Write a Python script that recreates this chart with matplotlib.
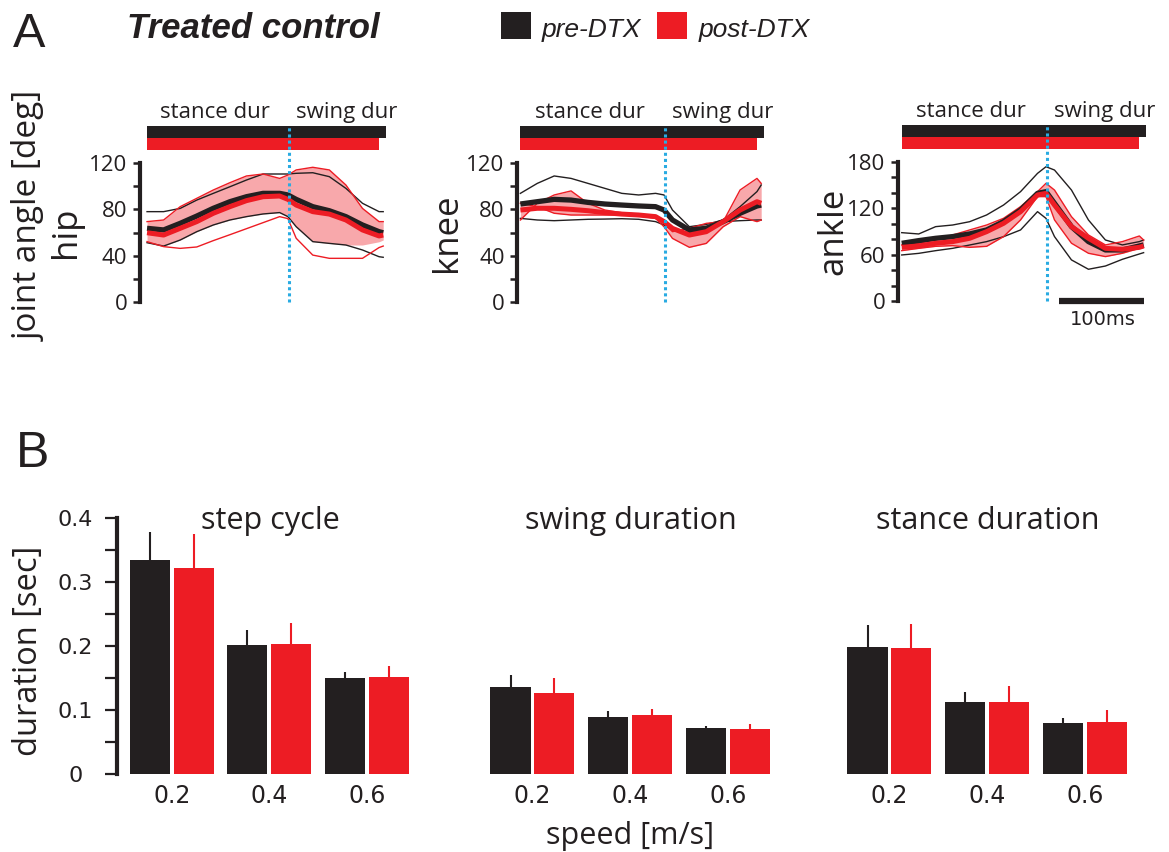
import matplotlib
matplotlib.use('Agg')
import matplotlib.pyplot as plt
import matplotlib.transforms as mtransforms
from matplotlib.patches import Rectangle
import numpy as np

plt.rcParams['font.family'] = ['Open Sans', 'DejaVu Sans']

BLK = '#231f20'
RED = '#ed1c24'
BLUE = '#29abe2'

#----------------  A: joint angle profiles (time in ms, angle in deg)  --------------------

t_ms = [0, 20, 40, 60, 80, 100, 120, 140, 160, 170, 180, 200, 220, 240, 260, 280, 285]

# stance / swing durations used for the bars above each trace
stance_pre, swing_pre = 171, 117
stance_post, swing_post = 171, 109

hip_pre_mean = [63.6, 62.2, 67.9, 74.2, 80.9, 86.6, 90.9, 93.8, 93.8, 92.4, 88.6, 82.3, 78.8, 73.7, 66.5, 60.7, 59.8]
hip_pre_hi = [78.0, 78.0, 80.8, 88.0, 93.8, 99.5, 105.3, 110.5, 110.5, 110.5, 111.1, 111.6, 108.2, 98.1, 85.2, 78.0, 78.0]
hip_pre_lo = [51.2, 48.3, 53.5, 60.7, 66.5, 70.8, 73.7, 76.0, 77.2, 73.7, 65.0, 52.1, 50.6, 49.2, 44.9, 39.1, 38.6]
hip_post_mean = [59.8, 57.8, 63.6, 69.4, 76.6, 82.3, 87.5, 90.9, 91.5, 88.6, 83.7, 78.0, 75.9, 70.8, 62.2, 57.0, 57.8]
hip_post_hi = [69.4, 70.8, 82.3, 89.5, 96.7, 103.0, 108.8, 110.5, 106.7, 109.6, 114.0, 116.3, 114.0, 101.0, 80.8, 69.4, 69.4]
hip_post_lo = [52.1, 47.8, 46.3, 47.5, 53.0, 58.1, 63.3, 68.5, 73.7, 72.0, 55.0, 40.5, 37.7, 37.7, 37.7, 47.0, 48.3]
hip_band_lo = [51.2, 48.3, 53.5, 60.7, 66.5, 70.8, 73.7, 76.0, 77.2, 73.7, 65.0, 52.1, 50.6, 49.2, 49.2, 52.0, 53.5]
hip_band_hi = hip_post_hi

knee_pre_mean = [84.6, 86.6, 88.6, 88.0, 86.0, 84.6, 83.7, 82.9, 82.3, 79.4, 70.8, 62.2, 63.6, 69.4, 76.6, 82.9, 83.7]
knee_pre_hi = [93.8, 102.4, 108.8, 106.7, 102.4, 98.1, 93.8, 92.4, 93.8, 92.4, 79.4, 65.0, 67.0, 70.8, 82.3, 95.3, 101.0]
knee_pre_lo = [72.2, 70.8, 70.2, 70.8, 71.4, 71.6, 71.9, 71.4, 69.4, 66.5, 62.2, 59.8, 62.0, 69.4, 70.2, 70.8, 70.8]
knee_post_mean = [79.4, 80.9, 80.9, 80.0, 78.8, 77.1, 75.9, 75.1, 73.7, 69.4, 63.6, 57.8, 60.7, 69.4, 79.4, 86.6, 85.2]
knee_post_hi = [70.8, 85.2, 92.4, 95.9, 85.2, 79.4, 77.1, 75.9, 74.2, 67.9, 60.7, 63.6, 67.9, 69.4, 96.7, 106.7, 102.4]
knee_post_lo = [85.2, 82.3, 76.6, 75.1, 75.1, 75.1, 75.1, 74.2, 72.2, 65.0, 54.9, 47.2, 50.6, 65.0, 73.7, 69.4, 70.8]
knee_band_lo, knee_band_hi = knee_post_lo, knee_post_hi

ankle_pre_mean = [74.7, 78.2, 81.2, 83.4, 86.8, 92.0, 102.8, 117.9, 139.4, 141.6, 126.5, 96.3, 76.9, 66.1, 66.1, 71.3, 72.6]
ankle_pre_hi = [88.5, 86.8, 96.3, 98.4, 102.7, 111.4, 124.3, 141.6, 165.3, 173.9, 169.6, 143.7, 104.9, 79.0, 72.6, 76.9, 79.0]
ankle_pre_lo = [59.6, 61.7, 65.2, 68.2, 72.5, 76.9, 83.3, 92.0, 115.7, 107.0, 83.4, 53.2, 41.1, 45.3, 54.0, 60.9, 62.6]
ankle_post_mean = [69.5, 71.3, 74.7, 76.9, 81.2, 89.8, 100.6, 115.7, 137.3, 139.4, 124.3, 96.3, 81.2, 68.2, 66.9, 69.5, 71.3]
ankle_post_hi = [72.6, 74.7, 79.0, 85.5, 92.0, 98.4, 107.1, 122.2, 141.6, 152.4, 143.7, 109.2, 85.5, 72.6, 76.9, 84.2, 79.0]
ankle_post_lo = [65.2, 68.2, 70.8, 71.7, 69.5, 70.8, 83.4, 105.0, 135.2, 135.2, 105.0, 74.8, 61.8, 57.5, 61.8, 68.2, 69.5]
ankle_band_lo, ankle_band_hi = ankle_post_lo, ankle_post_hi

#----------------  B: step timing vs treadmill speed (sec)  --------------------

speeds = ['0.2', '0.4', '0.6']

cycle_pre = [0.334, 0.201, 0.150]
cycle_pre_sd = [0.044, 0.024, 0.009]
cycle_post = [0.322, 0.203, 0.152]
cycle_post_sd = [0.053, 0.033, 0.017]

swing_dur_pre = [0.136, 0.089, 0.072]
swing_dur_pre_sd = [0.019, 0.009, 0.003]
swing_dur_post = [0.127, 0.092, 0.070]
swing_dur_post_sd = [0.023, 0.009, 0.008]

stance_dur_pre = [0.199, 0.112, 0.080]
stance_dur_pre_sd = [0.034, 0.016, 0.007]
stance_dur_post = [0.197, 0.112, 0.082]
stance_dur_post_sd = [0.037, 0.025, 0.018]


#----------------  figure  --------------------

W, H = 1169, 852
fig = plt.figure(figsize=(W / 100, H / 100), dpi=100)
TXT = '#231f20'


def px_axes(x0, y0, x1, y1):
    # axes box given in pixels measured from the top-left corner
    return fig.add_axes([x0 / W, 1 - y1 / H, (x1 - x0) / W, (y1 - y0) / H])


def joint_panel(box, xlim, name, name_x, ymax, ylabels, pre, post, band, scalebar=False):
    ax = px_axes(*box)
    ax.fill_between(t_ms, band[0], band[1], color=RED, alpha=0.38, lw=0, zorder=1)
    ax.plot(t_ms, pre[1], color=BLK, lw=1.0, zorder=2)
    ax.plot(t_ms, pre[2], color=BLK, lw=1.0, zorder=2)
    ax.plot(t_ms, post[1], color=RED, lw=1.0, zorder=3)
    ax.plot(t_ms, post[2], color=RED, lw=1.0, zorder=3)
    ax.plot(t_ms, pre[0], color=BLK, lw=3.8, zorder=4, solid_capstyle='butt')
    ax.plot(t_ms, post[0], color=RED, lw=3.6, zorder=5, solid_capstyle='butt')

    ax.set_xlim(*xlim)
    ax.set_ylim(0, ymax)

    # stance/swing bars above the trace
    trans = mtransforms.blended_transform_factory(ax.transData, ax.transAxes)
    ax.barh([1.223], [stance_pre + swing_pre], height=0.086, left=0, color=BLK,
            transform=trans, clip_on=False, lw=0)
    ax.barh([1.137], [stance_post + swing_post], height=0.086, left=0, color=RED,
            transform=trans, clip_on=False, lw=0)
    ax.text(82, 1.36, 'stance dur', transform=trans, ha='center', va='center',
            fontsize=16, color=TXT)
    ax.text(180, 1.36, 'swing dur', transform=trans, ha='left', va='center',
            fontsize=16, color=TXT)
    ax.axvline(stance_pre, ymin=0, ymax=1.27, color=BLUE, lw=2.2, ls=(0, (1, 1)),
               clip_on=False, zorder=6)

    for s in ['top', 'right', 'bottom']:
        ax.spines[s].set_visible(False)
    ax.spines['left'].set_linewidth(3)
    ax.spines['left'].set_color(BLK)
    ax.set_xticks([])
    ax.set_yticks(np.arange(0, ymax + 1, 20), minor=True)
    ax.set_yticks([float(v) for v in ylabels])
    ax.set_yticklabels(ylabels)
    ax.tick_params(axis='y', which='both', length=5, width=1.8, color=BLK,
                   labelsize=16, pad=4, labelcolor=TXT)
    ax.text(name_x, 0.5, name, rotation=90, transform=ax.transAxes,
            ha='center', va='center', fontsize=25, color=TXT)

    if scalebar:
        ax.plot([185, 285], [0, 0], color=BLK, lw=4.5, clip_on=False,
                solid_capstyle='butt')
        ax.text(237, -24, '100ms', ha='center', va='center', fontsize=14,
                family='DejaVu Sans', color=TXT, clip_on=False)
    return ax


joint_panel((140, 163, 389, 302), (-8.5, 292), 'hip', -0.297, 120, ['0', '40', '80', '120'],
            (hip_pre_mean, hip_pre_hi, hip_pre_lo),
            (hip_post_mean, hip_post_hi, hip_post_lo),
            (hip_band_lo, hip_band_hi))
joint_panel((517, 163, 765, 302), (-4, 289.5), 'knee', -0.282, 120, ['0', '40', '80', '120'],
            (knee_pre_mean, knee_pre_hi, knee_pre_lo),
            (knee_post_mean, knee_post_hi, knee_post_lo),
            (knee_band_lo, knee_band_hi))
joint_panel((898, 162, 1147, 301), (-4.4, 289), 'ankle', -0.261, 180, ['0', '60', '120', '180'],
            (ankle_pre_mean, ankle_pre_hi, ankle_pre_lo),
            (ankle_post_mean, ankle_post_hi, ankle_post_lo),
            (ankle_band_lo, ankle_band_hi), scalebar=True)

fig.text(29 / W, 1 - 216 / H, 'joint angle [deg]', rotation=90, ha='center', va='center',
         fontsize=24, color=TXT)


def bar_panel(x0, title, pre, pre_sd, post, post_sd, yaxis=False):
    ax = px_axes(x0, 518, x0 + 294, 774)
    x = np.arange(len(speeds))
    w, off = 0.41, 0.225
    ax.bar(x - off, pre, w, color=BLK, lw=0,
           yerr=[np.zeros(len(pre)), pre_sd], error_kw=dict(ecolor=BLK, elinewidth=1.5, capsize=0))
    ax.bar(x + off, post, w, color=RED, lw=0,
           yerr=[np.zeros(len(post)), post_sd], error_kw=dict(ecolor=RED, elinewidth=1.5, capsize=0))
    ax.set_xlim(-0.561, 2.45)
    ax.set_ylim(0, 0.4)
    ax.set_xticks(x)
    ax.set_xticklabels(speeds, family='DejaVu Sans')
    ax.tick_params(axis='x', length=0, pad=7, labelsize=17, labelcolor=TXT)
    for s in ['top', 'right', 'bottom']:
        ax.spines[s].set_visible(False)
    if yaxis:
        ax.spines['left'].set_linewidth(3)
        ax.spines['left'].set_color(BLK)
        ax.set_yticks(np.arange(0, 0.41, 0.05), minor=True)
        ax.set_yticks([0, 0.1, 0.2, 0.3, 0.4])
        ax.set_yticklabels(['0', '0.1', '0.2', '0.3', '0.4'], family='DejaVu Sans', ha='center')
        ax.tick_params(axis='y', which='both', length=9, width=1.6, color=BLK,
                       labelsize=16, pad=21, labelcolor=TXT)
    else:
        ax.spines['left'].set_visible(False)
        ax.set_yticks([])
    ax.text(0.52, 0.99, title, transform=ax.transAxes, ha='center', va='center',
            fontsize=22, color=TXT)
    return ax


bar_panel(117, 'step cycle', cycle_pre, cycle_pre_sd, cycle_post, cycle_post_sd, yaxis=True)
bar_panel(477.7, 'swing duration', swing_dur_pre, swing_dur_pre_sd, swing_dur_post, swing_dur_post_sd)
bar_panel(834.7, 'stance duration', stance_dur_pre, stance_dur_pre_sd, stance_dur_post, stance_dur_post_sd)

fig.text(29 / W, 1 - 651 / H, 'duration [sec]', rotation=90, ha='center', va='center',
         fontsize=23.5, color=TXT)
fig.text(630 / W, 1 - 836 / H, 'speed [m/s]', ha='center', va='center',
         fontsize=22, color=TXT)

#----------------  panel letters, title and legend  --------------------

fig.text(13 / W, 1 - 47 / H, 'A', family='Liberation Sans', fontsize=35,
         va='baseline', color=TXT)
fig.text(16 / W, 1 - 467 / H, 'B', family='Liberation Sans', fontsize=36,
         va='baseline', color=TXT)
fig.text(127 / W, 1 - 38 / H, 'Treated control', family='Liberation Sans', fontsize=25,
         weight='bold', style='italic', va='baseline', color=TXT)

for x0, x1, col, label in [(500.7, 530.7, BLK, 'pre-DTX'), (656.7, 687.3, RED, 'post-DTX')]:
    fig.add_artist(Rectangle((x0 / W, 1 - 39.3 / H), (x1 - x0) / W, 27.6 / H,
                             transform=fig.transFigure, color=col, lw=0))
    fig.text((x1 + 11) / W, 1 - 36.7 / H, label, family='Liberation Sans', fontsize=19,
             style='italic', va='baseline', color=TXT)

fig.savefig('out.png', dpi=100)
